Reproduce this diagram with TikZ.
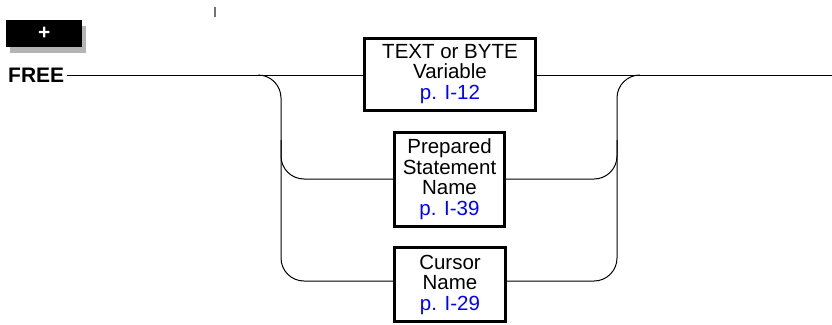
\documentclass[tikz,border=0pt]{standalone}
\usepackage{fontspec}
\setmainfont{Liberation Sans}
\definecolor{linkblue}{RGB}{0,0,255}
\definecolor{shadowgray}{RGB}{180,180,180}
\begin{document}
\begin{tikzpicture}[x=1pt,y=-1pt,
  synbox/.style={draw=black,line width=3pt,inner sep=0pt,align=center,
    font=\fontsize{20.5}{20.5}\selectfont},
  conn/.style={draw=black,line width=1pt,rounded corners=23pt},
  kw/.style={font=\fontsize{21}{21}\selectfont\bfseries,inner sep=0pt}]
\useasboundingbox (0,0) rectangle (832,324);
% top decorations
\fill[shadowgray] (10,26) rectangle (86,52.7);
\node[fill=black,minimum width=76pt,minimum height=26.7pt,inner sep=0pt,anchor=north west,
  text=white,font=\fontsize{21}{21}\selectfont\bfseries] (plus) at (6,20) {+};
\draw[black!55,line width=1.8pt] (215,6.7) -- (215,17.3);
% keyword
\node[kw,anchor=west] (free) at (8,75) {FREE};
% boxes
\node[synbox,minimum width=171pt,minimum height=72pt] (b1) at (450,74)
  {TEXT or BYTE\\Variable\\\textcolor{linkblue}{p. I-12}};
\node[synbox,minimum width=110pt,minimum height=94pt] (b2) at (449.5,179)
  {Prepared\\Statement\\Name\\\textcolor{linkblue}{p. I-39}};
\node[synbox,minimum width=111pt,minimum height=74pt] (b3) at (450,284.5)
  {Cursor\\Name\\\textcolor{linkblue}{p. I-29}};
% row coordinates
\coordinate (r1) at (0,75);
\coordinate (r2) at (0,179);
\coordinate (r3) at (0,281);
\coordinate (lsplit) at (258,75);
\coordinate (lcorner) at (281,281);
\coordinate (lmid) at (281,140);
\coordinate (lrow2) at (281,179);
\coordinate (rcorner) at (617,75);
\coordinate (rjoin) at (640,75);
\coordinate (rmid) at (617,140);
\coordinate (rrow2) at (617,179);
\coordinate (endp) at (832,75);
% main line
\draw[conn] ([xshift=3pt]free.east |- r1) -- (b1.west |- r1);
\draw[conn] (b1.east |- r1) -- (endp);
% left branch
\draw[conn] (lsplit) -| (lcorner) -- (b3.west |- r3);
\draw[conn] (lmid) -- (lrow2) -- (b2.west |- r2);
% right branch
\draw[conn] (b3.east |- r3) -| (rcorner) -- (rjoin);
\draw[conn] (b2.east |- r2) -- (rrow2) -- (rmid);
\end{tikzpicture}
\end{document}
